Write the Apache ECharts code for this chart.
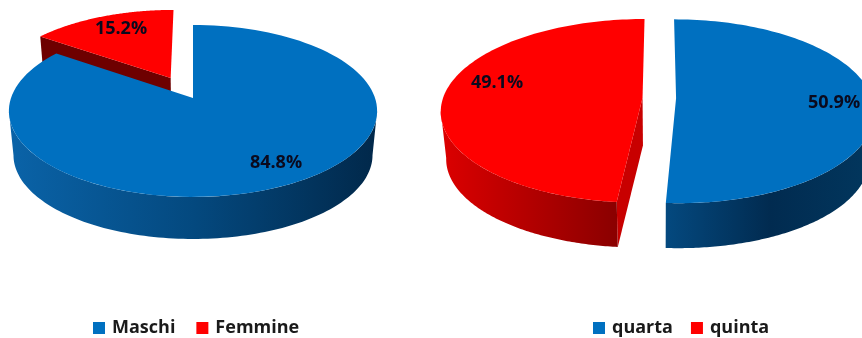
<!DOCTYPE html>
<html><head><meta charset="utf-8">
<style>html,body{margin:0;padding:0;background:#fff}#c{width:862px;height:338px;filter:blur(0.4px)}</style>
<script src="https://cdn.jsdelivr.net/npm/echarts@6/dist/echarts.min.js"></script>
</head><body><div id="c"></div>
<script>
// data
const sexNames = ['Maschi', 'Femmine'];
const sexValues = [84.8, 15.2];
const classNames = ['quarta', 'quinta'];
const classValues = [50.9, 49.1];

// layout of each tilted pie (perspective disc)
const FONT = '"Open Sans", sans-serif';
const pieLeft = { cx: 193, ay: 98, a: 182, s: 84, k: 0.151, f: 0.975, dz: 44.5 };
const pieRightRed = { cx: 658.5, ay: 98, a: 199.5, s: 90, k: 0.142, f: 0.975, dz: 47.6 };
const pieRightBlue = { cx: 660, ay: 98, a: 196, s: 90, k: 0.142, f: 0.975, dz: 47.6 };

// drawing style per slice
const BLUE = '#0070c0', RED = '#ff0000';
const slices = [
  { pie: pieLeft, names: sexNames, values: sexValues, idx: 1, explode: 0.277, top: RED, radial: 'start', radialFill: '#6e0000',
    wall: ['#d80000', '#8a0000'], label: [121, 29] },
  { pie: pieLeft, names: sexNames, values: sexValues, idx: 0, explode: 0, top: BLUE,
    wall: ['#0a63a8', '#04497f', '#01284a'], label: [276, 163] },
  { pie: pieRightRed, names: classNames, values: classValues, idx: 1, explode: 0.08, top: RED, radial: 'start', radialFill: '#c80000', startTrimDeg: 2.5,
    wall: ['#dc0000', '#8a0000'], label: [497, 83] },
  { pie: pieRightBlue, names: classNames, values: classValues, idx: 0, explode: 0.082, top: BLUE,
    wall: ['#04497f', '#012b50', '#02375e'], label: [834, 103] }
];

function project(p, u, v, depth) {
  const w = 1 - p.k * v;
  const sc = depth ? p.f : 1;
  return [p.cx + sc * p.a * u / w, p.ay + (depth ? p.dz : 0) + sc * p.s * v / w];
}

function renderSlice(sl, api) {
  const p = sl.pie;
  const total = sl.values.reduce((x, y) => x + y, 0);
  let before = 0;
  for (let i = 0; i < sl.idx; i++) before += sl.values[i];
  const s0 = before / total * 2 * Math.PI;
  const t1 = s0 + api.value(0) / total * 2 * Math.PI;
  const mid = (s0 + t1) / 2;
  const t0 = s0 + (sl.startTrimDeg || 0) * Math.PI / 180;
  const ex = sl.explode * Math.sin(mid), ey = -sl.explode * Math.cos(mid);
  const rim = (t, d) => project(p, Math.sin(t) + ex, -Math.cos(t) + ey, d);
  const apex = d => project(p, ex, ey, d);
  const arc = (a, b, d) => {
    const pts = [], n = 120;
    for (let i = 0; i <= n; i++) pts.push(rim(a + (b - a) * i / n, d));
    return pts;
  };
  const children = [];
  if (sl.radial) {
    const t = sl.radial === 'start' ? t0 : t1;
    children.push({ type: 'polygon', shape: { points: [apex(false), rim(t, false), rim(t, true), apex(true)] },
      style: { fill: sl.radialFill } });
  }
  const tA = Math.acos(-p.k), tB = 2 * Math.PI - tA;
  const a = Math.max(t0, tA), b = Math.min(t1, tB);
  if (b > a) {
    const stops = sl.wall.map((c, i) => ({ offset: i / (sl.wall.length - 1), color: c }));
    children.push({ type: 'polygon', shape: { points: arc(a, b, false).concat(arc(a, b, true).reverse()) },
      style: { fill: new echarts.graphic.LinearGradient(0, 0, 1, 0, stops) } });
  }
  children.push({ type: 'polygon', shape: { points: [apex(false)].concat(arc(t0, t1, false)) },
    style: { fill: sl.top } });
  children.push({ type: 'text', style: { text: api.value(0).toFixed(1) + '%', x: sl.label[0], y: sl.label[1],
    align: 'center', verticalAlign: 'middle', fill: '#0a0a1e', fontFamily: FONT, fontWeight: 700, fontSize: 18 } });
  return { type: 'group', children };
}

const legendText = { fontFamily: FONT, fontWeight: 700, fontSize: 18, color: '#1a1a1a', padding: [0, 0, 0, 2] };
const chart = echarts.init(document.getElementById('c'), null, { renderer: 'canvas' });
chart.setOption({
  animation: false,
  backgroundColor: '#fff',
  legend: [
    { data: sexNames, left: 88, top: 314, icon: 'rect', itemWidth: 12, itemHeight: 12, itemGap: 21, selectedMode: false, textStyle: legendText },
    { data: classNames, left: 588, top: 314, icon: 'rect', itemWidth: 12, itemHeight: 12, itemGap: 18, selectedMode: false, textStyle: legendText }
  ],
  series: slices.map(sl => ({
    type: 'custom',
    name: sl.names[sl.idx],
    coordinateSystem: 'none',
    silent: true,
    itemStyle: { color: sl.top },
    data: [[sl.values[sl.idx]]],
    renderItem: (params, api) => renderSlice(sl, api)
  }))
});
</script></body></html>
